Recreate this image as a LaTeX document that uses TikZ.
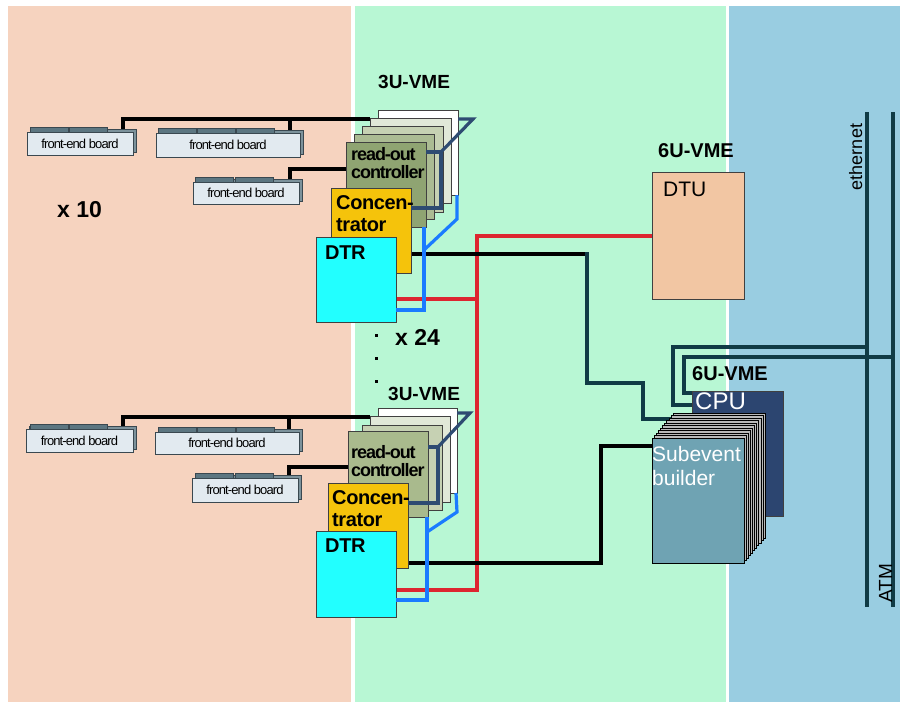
\documentclass[tikz,border=0pt]{standalone}
\usepackage{fontspec}
\setmainfont{Liberation Sans}
\pgfdeclarelayer{bg}
\pgfsetlayers{bg,main}
\definecolor{salmon}{HTML}{F6D3BF}
\definecolor{mint}{HTML}{B8F7D4}
\definecolor{sky}{HTML}{99CDE1}
\definecolor{febfront}{HTML}{E2EAF0}
\definecolor{febback}{HTML}{7C929B}
\definecolor{febslab}{HTML}{5C7681}
\definecolor{febline}{HTML}{3A4850}
\definecolor{cardB}{HTML}{E1E8D8}
\definecolor{cardC}{HTML}{C6D1B3}
\definecolor{cardD}{HTML}{ABBB93}
\definecolor{rocA}{HTML}{8FA472}
\definecolor{rocB}{HTML}{A9BA8D}
\definecolor{conc}{HTML}{F5C30B}
\definecolor{dtrc}{HTML}{22FFFF}
\definecolor{dtuc}{HTML}{F2C6A3}
\definecolor{cpuc}{HTML}{2C4570}
\definecolor{sebc}{HTML}{6FA3B3}
\definecolor{ethc}{HTML}{103B45}
\definecolor{navyline}{HTML}{2E4B72}
\definecolor{brightblue}{HTML}{1A7BFF}
\definecolor{redline}{HTML}{DD2530}
\newcommand\fsz[1]{\fontsize{#1}{#1}\selectfont}
\newcommand\rbox[6]{\node[box,#1,minimum width={(#5)-(#3)},minimum height={(#6)-(#4)}] (#2) at (#3,#4) {};}
\newcommand\feb[6]{%
  \filldraw[fill=febback, draw=febline, line width=0.6pt] (#2+3,#3-3) rectangle (#4+3,#5-3);
  \foreach \s in {#6} {\filldraw[fill=febslab, draw=febline, line width=0.6pt] (\s,#3-5) rectangle (\s+38,#3);}
  \node[box, fill=febfront, draw=febline, minimum width={(#4)-(#2)}, minimum height={(#5)-(#3)}, font=\fsz{13}\addfontfeature{LetterSpace=-7}] (#1) at (#2,#3) {front-end board};
}
\tikzset{
  box/.style={draw=black!75, line width=0.8pt, inner sep=0pt, outer sep=0pt, anchor=north west},
  wire/.style={line width=3.2pt},
  bus/.style={line width=3.5pt, draw=ethc},
  lbl/.style={inner sep=0pt, anchor=base west},
  dot/.style={fill=black, inner sep=0pt, minimum size=3pt},
  rotxt/.style={lbl, font=\bfseries\fsz{18}\addfontfeature{LetterSpace=-6}},
  conctxt/.style={lbl, font=\bfseries\fsz{20}\addfontfeature{LetterSpace=-2}}
}
\begin{document}
\begin{tikzpicture}[x=1pt,y=-1pt]
\useasboundingbox (0,0) rectangle (902,702);
\begin{pgfonlayer}{bg}
\fill[white] (0,0) rectangle (902,702);
\fill[salmon] (8,6) rectangle (351,702);
\fill[mint] (355,6) rectangle (726,702);
\fill[sky] (729,6) rectangle (900,702);
\end{pgfonlayer}

% front-end boards
\feb{fa1}{27}{132}{133}{155}{30,69}
\feb{fb1}{156}{133}{300}{157}{158,197,236}
\feb{fc1}{193}{182}{299}{204}{195,235}
\feb{fa2}{26}{429}{133}{452}{30,69}
\feb{fb2}{155}{432}{299}{454}{158,197,236}
\feb{fc2}{192}{478}{298}{502}{195,235}

% top crate
\rbox{fill=white}{w1}{378}{110}{458}{195}
\rbox{fill=cardB}{b1}{370}{118}{451}{203}
\rbox{fill=cardC}{c1}{362}{126}{443}{212}
\rbox{fill=cardD}{d1}{354}{134}{434}{219}
\rbox{fill=rocA}{ro1}{346}{142}{426}{227}
\rbox{fill=conc}{co1}{331}{188}{411}{273}
\rbox{fill=dtrc}{dt1}{316}{237}{396}{322}

% bottom crate
\rbox{fill=white}{w2}{378}{408}{457}{493}
\rbox{fill=cardB}{b2}{370}{416}{450}{502}
\rbox{fill=cardC}{c2}{362}{425}{442}{510}
\rbox{fill=rocB}{ro2}{348}{431}{428}{517}
\rbox{fill=conc}{co2}{328}{483}{408}{568}
\rbox{fill=dtrc}{dt2}{316}{531}{396}{617}

% DTU
\rbox{fill=dtuc}{dtu}{652}{172}{744}{299}
% CPU
\rbox{fill=cpuc}{cpu}{692}{391}{783}{516}
% subevent builder stack
\foreach \i in {10,...,1} {
  \filldraw[fill=gray!55, draw=black, line width=0.5pt] (652+2.1*\i,438-2.5*\i) rectangle ++(92,125);
}
\rbox{fill=sebc, draw=black}{seb}{652}{438}{744}{563}

% bus coordinates
\coordinate (ethT) at (867,112);
\coordinate (ethB) at (867,607);
\coordinate (atmT) at (893,112);
\coordinate (atmB) at (893,607);

% crate-internal links (on top of the cards)
\draw[wire,navyline] (w1.east |- 0,119) -- (473,119) -- (441,152);
\draw[wire,navyline] (ro1.east |- 0,152) -- (441,152) -- (441,208) -- (co1.east |- 0,208);
\draw[wire,brightblue] ([xshift=-1pt]w1.south east) -- (457,219) -- (424,250);
\draw[wire,brightblue] (ro1.south -| 424,0) -- (424,310) -- (dt1.east |- 0,310);
\draw[wire,navyline] (w2.east |- 0,413) -- (470,413) -- (438,447);
\draw[wire,navyline] (ro2.east |- 0,447) -- (438,447) -- (438,503) -- (co2.east |- 0,503);
\draw[wire,brightblue] ([xshift=-1pt]w2.south east) -- (457,512) -- (427,532);
\draw[wire,brightblue] (ro2.south -| 427,0) -- (427,600) -- (dt2.east |- 0,600);

\begin{pgfonlayer}{bg}
% top wiring
\draw[wire] (fa1.north -| 123,0) -- (123,119) -- (b1.west |- 0,119);
\draw[wire] (fb1.north -| 290,0) -- (290,119);
\draw[wire] (fc1.north -| 290,0) -- (290,169) -- (ro1.west |- 0,169);
\draw[wire,redline] (dt1.east |- 0,299) -- (477,299);
\draw[wire,redline] (dtu.west |- 0,236) -- (477,236) -- (477,590) -- (dt2.east |- 0,590);
\draw[wire] (co1.east |- 0,254) -- (588,254);
\draw[wire,ethc] (587,252.4) -- (587,383) -- (643,383) -- (643,419) -- (672,419);
% bottom wiring
\draw[wire] (fa2.north -| 123,0) -- (123,417) -- (b2.west |- 0,417);
\draw[wire] (fb2.north -| 289,0) -- (289,417);
\draw[wire] (fc2.north -| 289,0) -- (289,467) -- (ro2.west |- 0,467);
\draw[wire] (co2.east |- 0,563) -- (601,563) -- (601,446) -- (seb.west |- 0,446);
% buses
\draw[bus] (ethT) -- (ethB);
\draw[bus] (atmT) -- (atmB);
\draw[bus] (cpu.west |- 0,405) -- (673,405) -- (673,347) -- (ethT |- 0,347);
\draw[bus] (cpu.west |- 0,393) -- (684,393) -- (684,357) -- (atmT |- 0,357);
\end{pgfonlayer}

% labels
\node[lbl, font=\bfseries\fsz{23}] (x10) at (57,217) {x 10};
\node[lbl, font=\bfseries\fsz{23}] (x24) at (395,345) {x 24};
\node[dot] (dA) at (376,335) {};
\node[dot] (dB) at (376,358) {};
\node[dot] (dC) at (376,381) {};

\node[lbl, font=\bfseries\fsz{19}] (u1) at (378,88) {3U-VME};
\node[rotxt] (r1a) at (351,160) {read-out};
\node[rotxt] (r1b) at (351,178) {controller};
\node[conctxt] (k1a) at (336,209) {Concen-};
\node[conctxt] (k1b) at (336,231.5) {trator};
\node[conctxt] (dr1) at (325,259) {DTR};

\node[lbl, font=\bfseries\fsz{19}] (u2) at (388,400.5) {3U-VME};
\node[rotxt] (r2a) at (351,458) {read-out};
\node[rotxt] (r2b) at (351,476.5) {controller};
\node[conctxt] (k2a) at (332,504) {Concen-};
\node[conctxt] (k2b) at (332,526.5) {trator};
\node[conctxt] (dr2) at (325,552.5) {DTR};

\node[lbl, font=\bfseries\fsz{20}] (v1) at (658,157) {6U-VME};
\node[lbl, font=\fsz{21}] (dtut) at (663,196.5) {DTU};
\node[lbl, font=\bfseries\fsz{20}] (v2) at (692,380) {6U-VME};
\node[lbl, font=\fsz{24}, text=white] (cput) at (695,409) {CPU};
\node[lbl, font=\fsz{21}, text=white] (sb1) at (652,461.5) {Subevent};
\node[lbl, font=\fsz{21}, text=white] (sb2) at (652,485.5) {builder};

\node[inner sep=0pt, anchor=base, rotate=90, font=\fsz{18}] (etht) at (862,157) {ethernet};
\node[inner sep=0pt, anchor=base, rotate=90, font=\fsz{19}] (atmt) at (892,583) {ATM};
\end{tikzpicture}
\end{document}
